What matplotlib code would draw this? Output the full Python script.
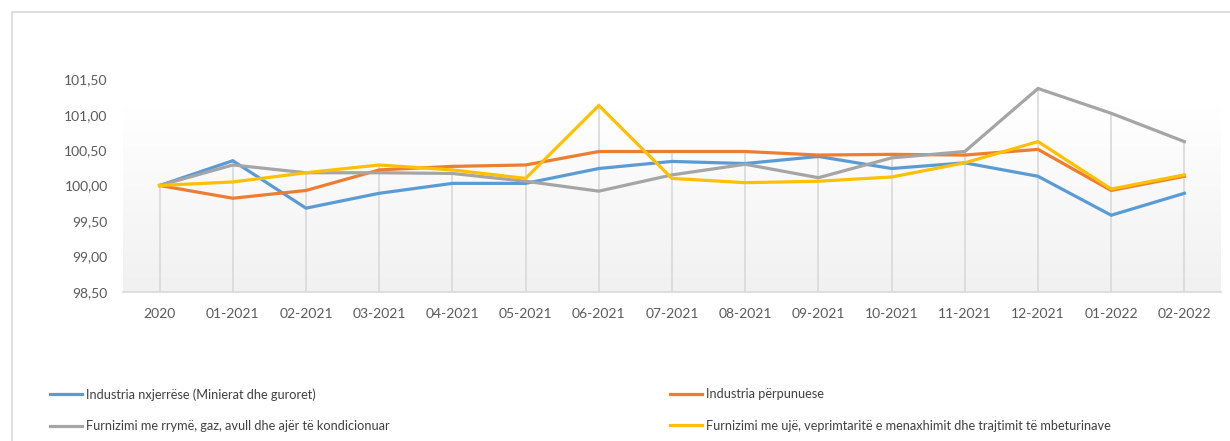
import matplotlib
matplotlib.use("Agg")
import matplotlib.pyplot as plt
import numpy as np
from matplotlib.patches import Rectangle
from matplotlib.colors import LinearSegmentedColormap

plt.rcParams['font.family'] = ['Lato', 'DejaVu Sans']

categories = ["2020", "01-2021", "02-2021", "03-2021", "04-2021", "05-2021", "06-2021",
              "07-2021", "08-2021", "09-2021", "10-2021", "11-2021", "12-2021", "01-2022", "02-2022"]

nxjerrese = [100.00, 100.35, 99.68, 99.89, 100.03, 100.03, 100.24, 100.34, 100.31, 100.41,
             100.24, 100.32, 100.13, 99.58, 99.89]
perpunuese = [100.00, 99.82, 99.93, 100.22, 100.27, 100.29, 100.48, 100.48, 100.48, 100.43,
              100.44, 100.43, 100.51, 99.93, 100.13]
rryme = [100.00, 100.29, 100.18, 100.18, 100.17, 100.06, 99.92, 100.15, 100.30, 100.11,
         100.39, 100.48, 101.37, 101.02, 100.62]
uje = [100.00, 100.05, 100.18, 100.29, 100.22, 100.10, 101.13, 100.10, 100.04, 100.06,
       100.12, 100.32, 100.62, 99.95, 100.15]

series_names = ["Industria nxjerrëse (Minierat dhe guroret)",
                "Industria përpunuese",
                "Furnizimi me rrymë, gaz, avull dhe ajër të kondicionuar",
                "Furnizimi me ujë, veprimtaritë e menaxhimit dhe trajtimit të mbeturinave"]
colors = ["#5B9BD5", "#ED7D31", "#A5A5A5", "#FFC000"]
yticks = [98.5, 99.0, 99.5, 100.0, 100.5, 101.0, 101.5]

W, H = 1230, 441
fig = plt.figure(figsize=(W / 100, H / 100), dpi=100)

# outer chart border
fig.patches.append(Rectangle((12 / W, -0.1), 1.2, 1 - 12 / H + 0.1, transform=fig.transFigure,
                             fill=False, edgecolor="#d9d9d9", linewidth=1.2))

left, right = 123 / W, 1221 / W
top_px, bot_px = 79.3, 291.7
ax = fig.add_axes([left, 1 - bot_px / H, right - left, (bot_px - top_px) / H])
ax.set_xlim(-0.5, len(categories) - 0.5)
ax.set_ylim(98.5, 101.5)
ax.patch.set_visible(False)

# gradient plot area
grad = np.linspace(0, 1, 256).reshape(-1, 1)
cmap = LinearSegmentedColormap.from_list("g", ["#f1f1f1", "#ffffff"])
ax.imshow(grad, extent=(-0.5, len(categories) - 0.5, 98.5, 101.12), origin="lower",
          cmap=cmap, aspect="auto", zorder=0)

x = np.arange(len(categories))
data = [nxjerrese, perpunuese, rryme, uje]
# drop lines
maxv = np.max(np.array(data), axis=0)
ax.vlines(x, 98.5, maxv, colors="#d9d9d9", linewidth=1.2, zorder=1)

handles = []
for vals, c, name in zip(data, colors, series_names):
    ln, = ax.plot(x, vals, color=c, linewidth=2.3, solid_joinstyle="miter", zorder=3, label=name)
    handles.append(ln)

for s in ["top", "right", "left"]:
    ax.spines[s].set_visible(False)
ax.spines["bottom"].set_color("#d9d9d9")
ax.spines["bottom"].set_linewidth(1.2)
ax.set_xticks(x)
ax.set_xticklabels(categories)
ax.set_yticks(yticks)
ax.set_yticklabels([f"{v:.2f}".replace(".", ",") for v in yticks])
ax.tick_params(axis="both", length=0, labelsize=10, colors="#595959")
ax.tick_params(axis="x", pad=12)
ax.tick_params(axis="y", pad=11)

common = dict(loc="upper left", frameon=False, fontsize=9.2, handlelength=2.5,
              handletextpad=0.35, labelspacing=1.55, labelcolor="#404040",
              borderaxespad=0, borderpad=0)
leg1 = fig.legend([handles[0], handles[2]], [series_names[0], series_names[2]],
                  bbox_to_anchor=(50 / W, 1 - 388 / H), **common)
leg2 = fig.legend([handles[1], handles[3]], [series_names[1], series_names[3]],
                  bbox_to_anchor=(670 / W, 1 - 388 / H), **common)

fig.savefig("out.png", dpi=100)
